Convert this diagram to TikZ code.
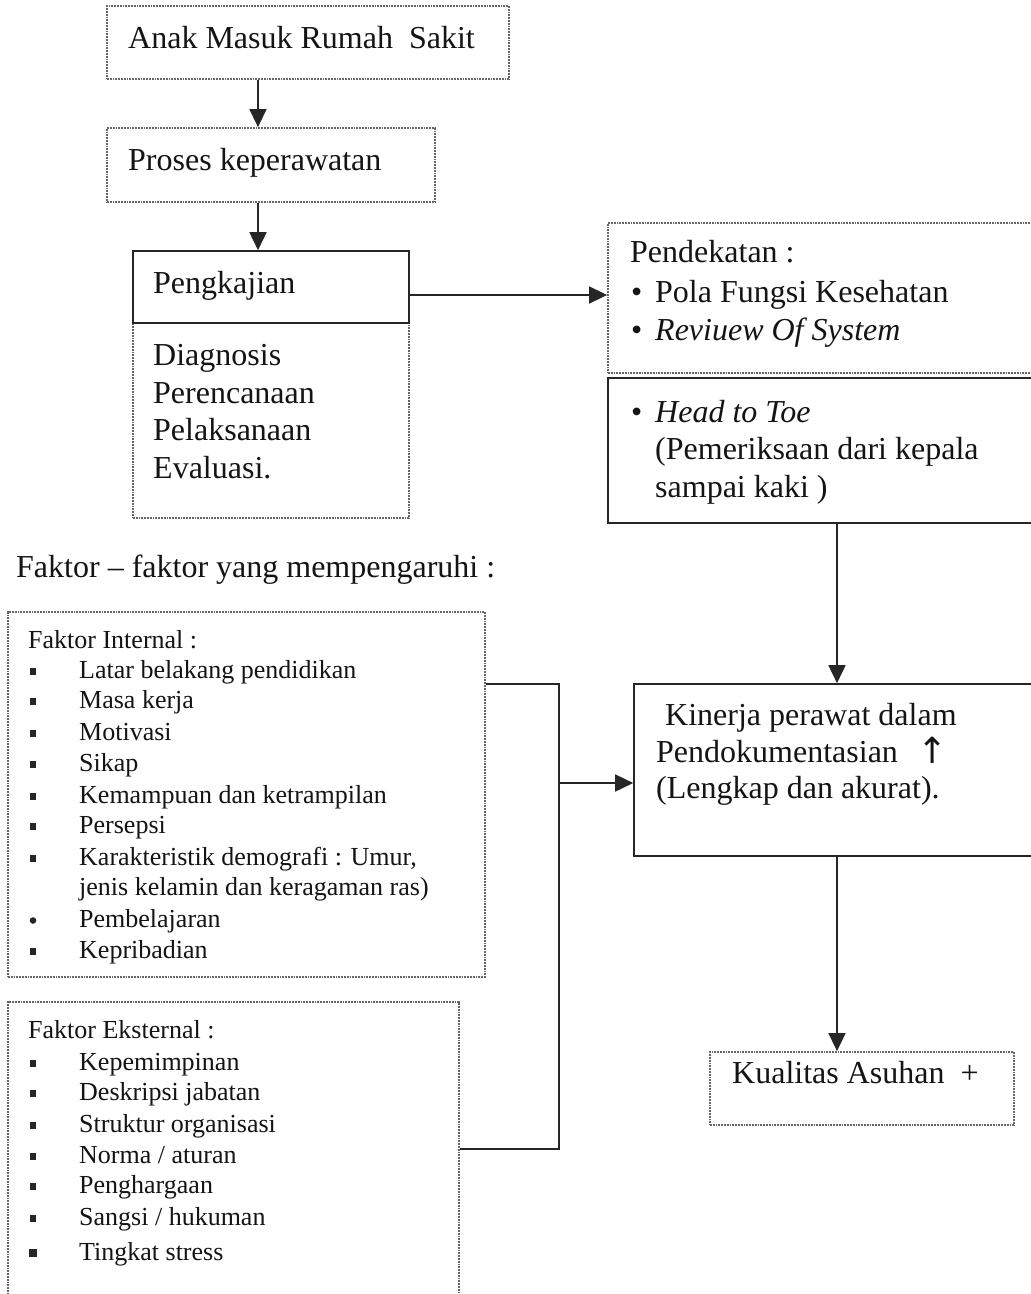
\documentclass[tikz,border=0pt]{standalone}
\usepackage{fontspec}
\setmainfont{Liberation Serif}
\newfontfamily\arrowfont{DejaVu Sans}
\usetikzlibrary{arrows.meta,fit}
\begin{document}
\begin{tikzpicture}[x=1pt,y=-1pt,
  dotbox/.style={draw=black!60, densely dotted, line width=1.8pt, inner sep=0pt},
  solidbox/.style={draw=black!85, line width=1.6pt, inner sep=0pt},
  big/.style={font=\fontsize{32}{38}\selectfont, inner sep=0pt, anchor=base west, text=black!92},
  small/.style={font=\fontsize{26}{31}\selectfont, inner sep=0pt, anchor=base west, text=black!92},
  conn/.style={draw=black!85, line width=1.6pt},
  arr/.style={conn, -{Triangle[length=18pt,width=17pt]}},
  bul/.style={fill=black!85}
]
\clip (0,0) rectangle (1031,1294);
\fill[white] (0,0) rectangle (1031,1294);

% helper coordinates for connector positions
\coordinate (cx1) at (258,0);
\coordinate (cy1) at (0,295);
\coordinate (cx2) at (837,0);
\coordinate (bt) at (559,684);
\coordinate (bm) at (559,783);
\coordinate (bb) at (559,1149);

% top chain
\node[dotbox, fit={(107,6) (509,79)}] (b1) {};
\node[big] (t1) at (128,48) {Anak Masuk Rumah\ \ Sakit};
\node[dotbox, fit={(107,128) (435,202)}] (b2) {};
\node[big] (t2) at (128,170) {Proses keperawatan};
\node[dotbox, fit={(133,323) (409,518)}] (tahap) {};
\node[solidbox, fit={(133,251) (409,323)}] (peng) {};
\node[big] (t3) at (153,293) {Pengkajian};
\node[big] (t4) at (153,365) {Diagnosis};
\node[big] (t5) at (153,403) {Perencanaan};
\node[big] (t6) at (153,440) {Pelaksanaan};
\node[big] (t7) at (153,478) {Evaluasi.};

% right column
\node[dotbox, fit={(608,223) (1045,373)}] (pend) {};
\node[big] (p0) at (630,262) {Pendekatan :};
\node[big] (pb1) at (631,302) {•};
\node[big] (p1) at (655,302) {Pola Fungsi Kesehatan};
\node[big] (pb2) at (631,340) {•};
\node[big] (p2) at (655,340) {\itshape Reviuew Of System};
\node[solidbox, fit={(608,378) (1045,523)}] (htt) {};
\node[big] (hb) at (631,422) {•};
\node[big] (h1) at (655,422) {\itshape Head to Toe};
\node[big] (h2) at (655,459) {(Pemeriksaan dari kepala};
\node[big] (h3) at (655,497) {sampai kaki )};

\node[solidbox, fit={(634,684) (1045,856)}] (kin) {};
\node[big] (k1) at (665,725) {Kinerja perawat dalam};
\node[big] (k2) at (656,762) {Pendokumentasian};
\node[big, font=\arrowfont\fontsize{36}{40}\selectfont] (kup) at (917,763) {↑};
\node[big] (k3) at (656,798) {(Lengkap dan akurat).};

\node[dotbox, fit={(710,1052) (1014,1125)}] (kual) {};
\node[big] (q1) at (732,1083) {Kualitas Asuhan\hspace{16pt}+};

% factors
\node[big] (ft) at (16,577) {Faktor – faktor yang mempengaruhi :};

\node[dotbox, fit={(8,612) (485,977)}] (int) {};
\node[small] (ih) at (28,648) {Faktor Internal :};
\foreach \y/\t [count=\i] in {678/{Latar belakang pendidikan}, 708/{Masa kerja}, 740/{Motivasi}, 771/{Sikap}, 803/{Kemampuan dan ketrampilan}, 833/{Persepsi}, 865/{Karakteristik demografi : Umur,}, 895/{jenis kelamin dan keragaman ras)}, 927/{Pembelajaran}, 958/{Kepribadian}} {
  \node[small] (in\i) at (79,\y) {\t};
}
\foreach \y in {678,708,740,771,803,833,865,958} {
  \fill[bul] (30,\y-10) rectangle (36,\y-3);
}
\fill[bul] (33,920.5) circle (3.3);

\node[dotbox, fit={(8,1002) (459,1310)}] (ext) {};
\node[small] (eh) at (28,1038) {Faktor Eksternal :};
\foreach \y/\t [count=\i] in {1070/{Kepemimpinan}, 1100/{Deskripsi jabatan}, 1132/{Struktur organisasi}, 1163/{Norma / aturan}, 1193/{Penghargaan}, 1225/{Sangsi / hukuman}, 1260/{Tingkat stress}} {
  \node[small] (ex\i) at (79,\y) {\t};
}
\foreach \y in {1070,1100,1132,1163,1193,1225} {
  \fill[bul] (30,\y-10) rectangle (36,\y-3);
}
\fill[bul] (29,1249) rectangle (37,1257);

% connectors
\draw[arr] (b1.south -| cx1) -- (b2.north -| cx1);
\draw[arr] (b2.south -| cx1) -- (peng.north -| cx1);
\draw[arr] (peng.east |- cy1) -- (pend.west |- cy1);
\draw[arr] (htt.south -| cx2) -- (kin.north -| cx2);
\draw[arr] (kin.south -| cx2) -- (kual.north -| cx2);
\draw[conn] (int.east |- bt) -- (bt) -- (bb) -- (ext.east |- bb);
\draw[arr] (bm) -- (kin.west |- bm);
\end{tikzpicture}
\end{document}
